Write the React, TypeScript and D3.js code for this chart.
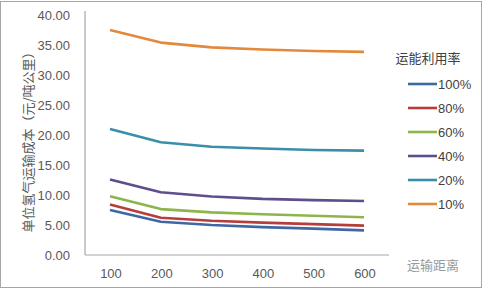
import React from "react";
import * as d3 from "d3";

const categories = ["100", "200", "300", "400", "500", "600"];
const yTicks = [0, 5, 10, 15, 20, 25, 30, 35, 40];
const seriesNames = ["100%", "80%", "60%", "40%", "20%", "10%"];
const s100 = [7.5, 5.55, 5.0, 4.65, 4.4, 4.1];
const s80 = [8.4, 6.2, 5.7, 5.4, 5.15, 4.9];
const s60 = [9.8, 7.65, 7.1, 6.8, 6.55, 6.3];
const s40 = [12.6, 10.45, 9.75, 9.35, 9.15, 9.0];
const s20 = [21.0, 18.8, 18.05, 17.75, 17.5, 17.4];
const s10 = [37.5, 35.4, 34.6, 34.25, 34.0, 33.85];
const seriesValues = [s100, s80, s60, s40, s20, s10];
const colors = ["#3f67a4", "#b43e3b", "#8eb54b", "#5f4e8c", "#3a8ea8", "#e2893c"];

export default function App() {
  const W = 484, H = 290;
  const left = 85, right = 389, top = 15, bottom = 255;
  const x = d3.scalePoint<string>().domain(categories).range([110, 364]);
  const y = d3.scaleLinear().domain([0, 40]).range([bottom, top]);
  const line = d3.line<number>().x((_, i) => x(categories[i])!).y((d) => y(d));
  const font = "'Liberation Sans', Arial, sans-serif";
  const cjk = "'Noto Sans CJK SC', sans-serif";
  return (
    <svg width={W} height={H} style={{ position: "absolute", left: 0, top: 0, background: "#fff" }}>
      <rect x={0.5} y={1.5} width={481} height={286} fill="#fff" stroke="#a6a6a6" strokeWidth={1} />
      <line x1={left} x2={left} y1={top - 4} y2={bottom} stroke="#a6a6a6" strokeWidth={1.2} />
      <line x1={left} x2={right} y1={bottom} y2={bottom} stroke="#a6a6a6" strokeWidth={1.2} />
      {yTicks.map((t) => (
        <text key={t} x={70} y={y(t)} dy="0.35em" textAnchor="end" fontSize={13} fill="#595959" fontFamily={font}>
          {t.toFixed(2)}
        </text>
      ))}
      {categories.map((c) => (
        <text key={c} x={x(c)! + 1} y={273} dy="0.35em" textAnchor="middle" fontSize={13} fill="#595959" fontFamily={font}>
          {c}
        </text>
      ))}
      <text
        transform={`translate(28,139) rotate(-90)`}
        textAnchor="middle"
        dy="0.35em"
        fontSize={13}
        fill="#595959"
        fontFamily={cjk}
      >
        单位氢气运输成本（元/吨公里）
      </text>
      {seriesValues.map((vals, i) => (
        <path key={i} d={line(vals)!} fill="none" stroke={colors[i]} strokeWidth={2.6} strokeLinejoin="round" />
      ))}
      <text x={428} y={58} dy="0.35em" textAnchor="middle" fontSize={13} fill="#404040" fontFamily={cjk}>
        运能利用率
      </text>
      {seriesNames.map((n, i) => (
        <g key={n} transform={`translate(0,${84 + i * 24})`}>
          <line x1={408} x2={437} y1={0} y2={0} stroke={colors[i]} strokeWidth={2.6} />
          <text x={438} y={0} dy="0.35em" fontSize={13} fill="#404040" fontFamily={font}>
            {n}
          </text>
        </g>
      ))}
      <text x={433} y={265} dy="0.35em" textAnchor="middle" fontSize={13} fill="#7f7f7f" fontFamily={cjk} opacity={0.8}>
        运输距离
      </text>
    </svg>
  );
}
